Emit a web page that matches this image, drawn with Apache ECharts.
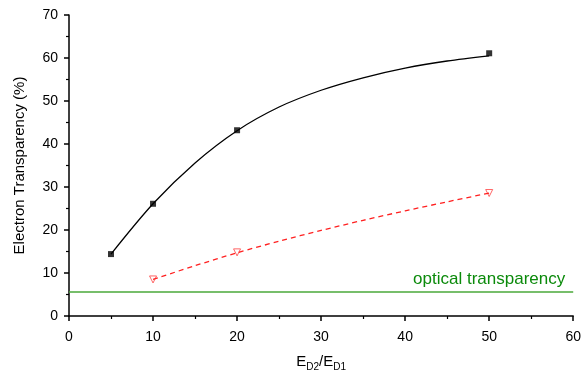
<!DOCTYPE html>
<html>
<head>
<meta charset="utf-8">
<script src="https://cdn.jsdelivr.net/npm/echarts@6/dist/echarts.min.js"></script>
<style>
  html, body { margin: 0; padding: 0; background: #fff; }
  #chart { width: 584px; height: 383px; }
</style>
</head>
<body>
<div id="chart"></div>
<script>
// measured points
const blackX = [5, 10, 20, 50]
const blackY = [14.4, 26.1, 43.2, 61.1]
const redX = [10, 20, 50]
const redY = [8.5, 14.8, 28.6]

// fit curves
const blackFitX = [5, 10, 15, 20, 25, 30, 35, 40, 45, 50]
const blackFitY = [14.4, 26.1, 35.6, 43.1, 48.6, 52.5, 55.4, 57.65, 59.3, 60.5]
const redFitX = [10, 15, 20, 25, 30, 35, 40, 45, 50]
const redFitY = [8.5, 11.7, 14.7, 17.4, 19.9, 22.25, 24.45, 26.55, 28.6]

const opticalLevel = 5.6
const opticalLabel = 'optical transparency'

const zip = (xs, ys) => xs.map((x, i) => [x, ys[i]])

const chart = echarts.init(document.getElementById('chart'))
const font = 'Liberation Sans, Arial, sans-serif'

const axisCommon = {
  axisLine: { lineStyle: { color: '#000', width: 1.5 } },
  axisTick: { inside: false, length: 5, lineStyle: { color: '#000', width: 1.5 } },
  minorTick: { show: true, splitNumber: 2, length: 3, lineStyle: { color: '#000', width: 1.2 } },
  splitLine: { show: false },
  axisLabel: { color: '#000', fontSize: 14, fontFamily: font }
}

chart.setOption({
  animation: false,
  grid: { left: 69, right: 9, top: 15, bottom: 67 },
  xAxis: {
    type: 'value', min: 0, max: 60, interval: 10,
    ...axisCommon,
    axisLabel: { ...axisCommon.axisLabel, margin: 14 },
    name: '{a|E}{s|D2}{a|/E}{s|D1}',
    nameLocation: 'middle',
    nameGap: 36,
    nameTextStyle: {
      rich: {
        a: { fontSize: 15, fontFamily: font, color: '#000' },
        s: { fontSize: 10, fontFamily: font, color: '#000', padding: [10, 0, 0, 0] }
      }
    }
  },
  yAxis: {
    type: 'value', min: 0, max: 70, interval: 10,
    ...axisCommon,
    axisLabel: { ...axisCommon.axisLabel, margin: 11 },
    name: 'Electron Transparency (%)',
    nameLocation: 'middle',
    nameGap: 42,
    nameTextStyle: { fontSize: 15, fontFamily: font, color: '#000' }
  },
  series: [
    {
      type: 'line', data: zip(blackFitX, blackFitY), smooth: 0.3, symbol: 'none',
      lineStyle: { color: '#000', width: 1.3 }
    },
    {
      type: 'scatter', data: zip(blackX, blackY), symbol: 'rect', symbolSize: 6,
      itemStyle: { color: '#000' }
    },
    {
      type: 'line', data: zip(redFitX, redFitY), smooth: 0.3, symbol: 'none',
      lineStyle: { color: '#ff2020', width: 1.3, type: [5, 4] }
    },
    {
      type: 'scatter', data: zip(redX, redY), symbol: 'triangle', symbolRotate: 180, symbolSize: 7,
      itemStyle: { color: '#fff', borderColor: '#ff4040', borderWidth: 1 }
    },
    {
      type: 'line', data: [], symbol: 'none',
      markLine: {
        silent: true, symbol: 'none',
        lineStyle: { color: '#4aa83a', width: 1.5, type: 'solid' },
        label: {
          show: true, position: 'insideEndTop', formatter: opticalLabel,
          color: '#0b8a0b', fontSize: 17, fontFamily: font, distance: [8, 4]
        },
        data: [{ yAxis: opticalLevel }]
      }
    }
  ]
})
</script>
</body>
</html>
